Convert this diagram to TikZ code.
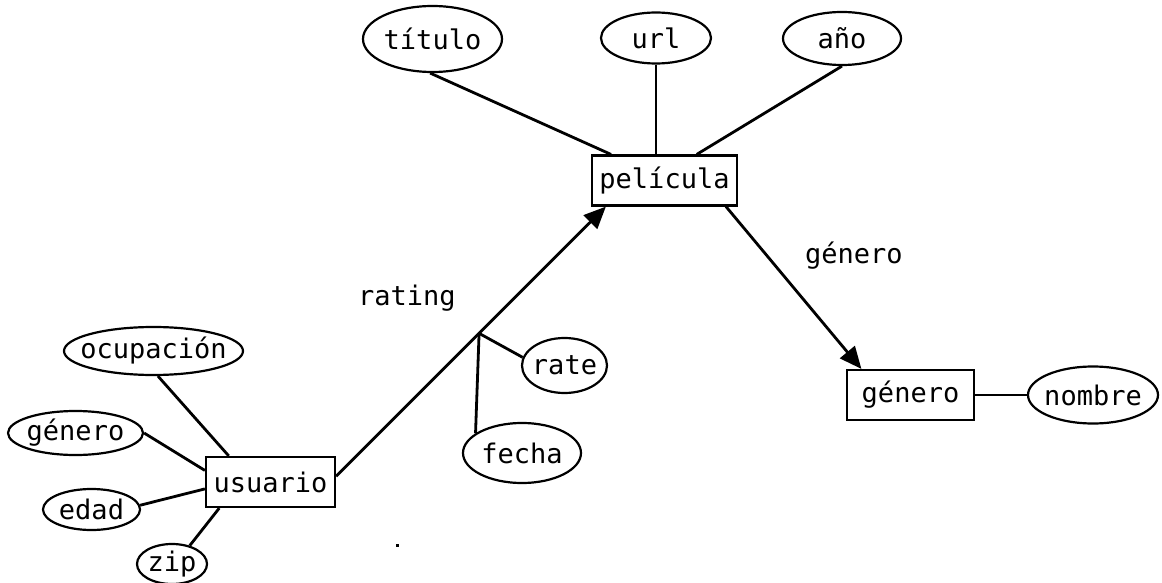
\documentclass[tikz,border=0pt]{standalone}
\usepackage{fontspec}
\newfontfamily\erfont{DejaVu Sans Mono}
\usetikzlibrary{shapes.geometric,arrows.meta,calc}

% attribute text takes no width, so each ellipse keeps its own size
\newcommand\eattr[1]{\makebox[0pt]{#1}}

\tikzset{
  entity/.style={draw, line width=2.2pt, rectangle, inner sep=0pt, minimum height=50pt},
  attrib/.style={draw, line width=2.2pt, ellipse, inner sep=0pt},
  link/.style={line width=2.8pt},
  rel/.style={line width=2.8pt, -{Triangle[length=22pt,width=19pt]}},
  lbl/.style={inner sep=0pt, anchor=base west},
  every node/.style={font=\erfont\fontsize{27}{32}\selectfont}
}

\begin{document}
\begin{tikzpicture}[x=1pt,y=-1pt]
  \useasboundingbox (0,0) rectangle (1162,583);

  % entities
  \node[entity, minimum width=145pt] (pel) at (664.5,180.5) {película};
  \node[entity, minimum width=129pt] (usu) at (270.5,482) {usuario};
  \node[entity, minimum width=127pt] (gen) at (910.5,395) {género};

  % attributes of película
  \node[attrib, minimum width=139pt, minimum height=66pt] (tit) at (432.5,39) {\eattr{título}};
  \node[attrib, minimum width=110pt, minimum height=51pt] (url) at (656,38) {\eattr{url}};
  \node[attrib, minimum width=118pt, minimum height=53pt] (ano) at (842,38.5) {\eattr{año}};

  % attributes of usuario
  \node[attrib, minimum width=179pt, minimum height=48pt] (ocu) at (153.5,351) {\eattr{ocupación}};
  \node[attrib, minimum width=135pt, minimum height=44pt] (gnu) at (75.5,433) {\eattr{género}};
  \node[attrib, minimum width=97pt, minimum height=41pt] (eda) at (91.5,509.5) {\eattr{edad}};
  \node[attrib, minimum width=70pt, minimum height=40pt] (zip) at (172,564) {\eattr{zip}};

  % attributes of the rating relationship
  \node[attrib, minimum width=85pt, minimum height=55pt] (rat) at (564.5,365.5) {\eattr{rate}};
  \node[attrib, minimum width=118pt, minimum height=60pt] (fec) at (522,453) {\eattr{fecha}};

  % attribute of género
  \node[attrib, minimum width=130pt, minimum height=57pt] (nom) at (1093,395) {\eattr{nombre}};

  % relationships
  \draw[rel] (usu.5) -- (pel.-156);
  \draw[rel] (pel.-23.5) -- (gen.152.2);
  \node[lbl] (lrat) at (358,305) {rating};
  \node[lbl] (lgen) at (805,263) {género};

  % connectors of película
  \draw[link] (tit.-94) -- (pel.154.1);
  \draw[link] (url.south) -- (url.south |- pel.north);
  \draw[link] (ano.south) -- (pel.39.3);

  % connectors of usuario
  \draw[link] (ocu.-80) -- (usu.148.3);
  \draw[link] (gnu.east) -- (usu.170.3);
  \draw[link] (eda.5) -- (usu.186.2);
  \draw[link] (zip.46.7) -- (usu.207.3);

  % connectors of rating
  \coordinate (j) at ($(usu.5)!0.53!(pel.-156)$);
  \draw[link] (j) -- (rat.169.8);
  \draw[link] (j) -- (fec.157.8);

  % connector of género
  \draw[link] (gen.east) -- (nom.west);

  % stray mark
  \fill (395.5,543.5) rectangle (398.5,546.5);
\end{tikzpicture}
\end{document}
